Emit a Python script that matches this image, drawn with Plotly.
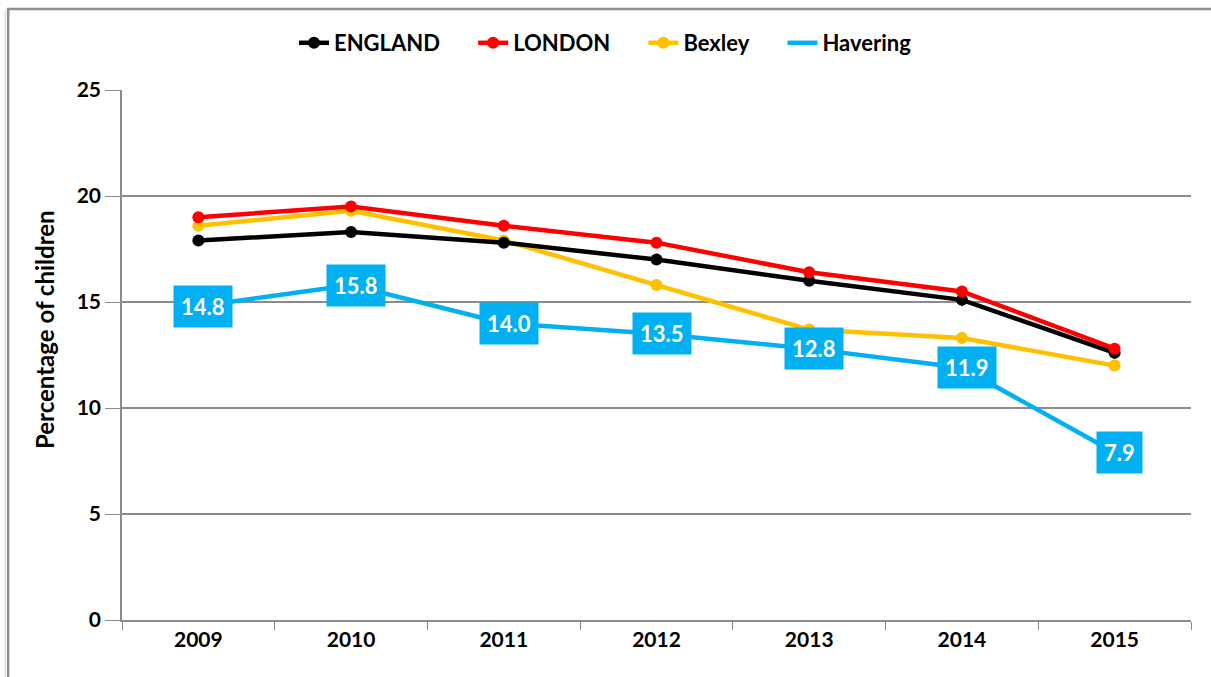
import plotly.graph_objects as go

years = ["2009", "2010", "2011", "2012", "2013", "2014", "2015"]
england = [17.9, 18.3, 17.8, 17.0, 16.0, 15.1, 12.6]
london = [19.0, 19.5, 18.6, 17.8, 16.4, 15.5, 12.8]
bexley = [18.6, 19.3, 17.9, 15.8, 13.7, 13.3, 12.0]
havering = [14.8, 15.8, 14.0, 13.5, 12.8, 11.9, 7.9]
series_names = ["ENGLAND", "LONDON", "Bexley", "Havering"]

FONT = "Lato, 'Open Sans', sans-serif"
PAD = "&nbsp;" * 5


def label(name, last=False):
    return f"<b>{name}</b>" + ("" if last else PAD)


fig = go.Figure()
fig.add_trace(go.Scatter(x=years, y=havering, name=label(series_names[3], True), mode="lines",
                         line=dict(color="#00B0F0", width=4.5), legendrank=4))
fig.add_trace(go.Scatter(x=years, y=bexley, name=label(series_names[2]), mode="lines+markers",
                         line=dict(color="#FFC000", width=4.5), marker=dict(size=12), legendrank=3))
fig.add_trace(go.Scatter(x=years, y=england, name=label(series_names[0]), mode="lines+markers",
                         line=dict(color="#000000", width=4.5), marker=dict(size=12), legendrank=1))
fig.add_trace(go.Scatter(x=years, y=london, name=label(series_names[1]), mode="lines+markers",
                         line=dict(color="#FF0000", width=4.5), marker=dict(size=12), legendrank=2))

for i, v in enumerate(havering):
    fig.add_annotation(x=i, y=v, xref="x", yref="y", text=f"<b>{v:.1f}</b>",
                       showarrow=False, bgcolor="#00B0F0", borderpad=7, xshift=5,
                       font=dict(family=FONT, size=22, color="white"))

# y-axis title as rotated text
fig.add_annotation(x=(44 - 122) / 1070, y=(620 - 330) / 530, xref="paper", yref="paper",
                   text="<b>Percentage of children</b>", textangle=-90, showarrow=False,
                   xanchor="center", yanchor="middle",
                   font=dict(family=FONT, size=24, color="black"))

fig.update_layout(
    width=1211, height=677,
    paper_bgcolor="white", plot_bgcolor="white",
    margin=dict(l=122, r=20, t=90, b=57, autoexpand=False),
    font=dict(family=FONT, color="black"),
    showlegend=True,
    legend=dict(orientation="h", x=0.5, xanchor="center", xref="container",
                y=1 - 43 / 677, yanchor="middle", yref="container", bgcolor="rgba(0,0,0,0)",
                font=dict(family=FONT, size=22, color="black"), traceorder="normal"),
    xaxis=dict(type="category", range=[-0.5, 6.5], showgrid=False, automargin=False,
               showline=True, linecolor="#8c8c8c", linewidth=1.5,
               ticks="outside", tickson="boundaries", ticklen=8, tickcolor="#8c8c8c",
               tickfont=dict(family=FONT, size=21, color="black"), tickprefix="<b>", ticksuffix="</b>"),
    yaxis=dict(range=[0, 25], dtick=5, showgrid=True, gridcolor="#8c8c8c", gridwidth=1.5,
               showline=True, linecolor="#8c8c8c", linewidth=1.5, zeroline=False, automargin=False,
               ticks="outside", ticklen=15, tickcolor="#8c8c8c",
               tickfont=dict(family=FONT, size=21, color="black"), tickprefix="<b>", ticksuffix="</b>"),
)

# chart frame: only top and left edges fall inside the canvas
fig.add_shape(type="rect", xref="paper", yref="paper", x0=-0.1065, x1=1.1, y0=-0.2, y1=1.153,
              line=dict(color="#8f8f8f", width=2.5), fillcolor="rgba(0,0,0,0)", layer="above")
fig.add_shape(type="line", xref="paper", yref="paper", x0=-0.1093, x1=-0.1093, y0=1.15, y1=-0.11,
              line=dict(color="#d0d0d0", width=1))

fig.write_html("out.html", config={"displayModeBar": False},
               post_script="document.body.style.margin='0';document.body.style.overflow='hidden';")
